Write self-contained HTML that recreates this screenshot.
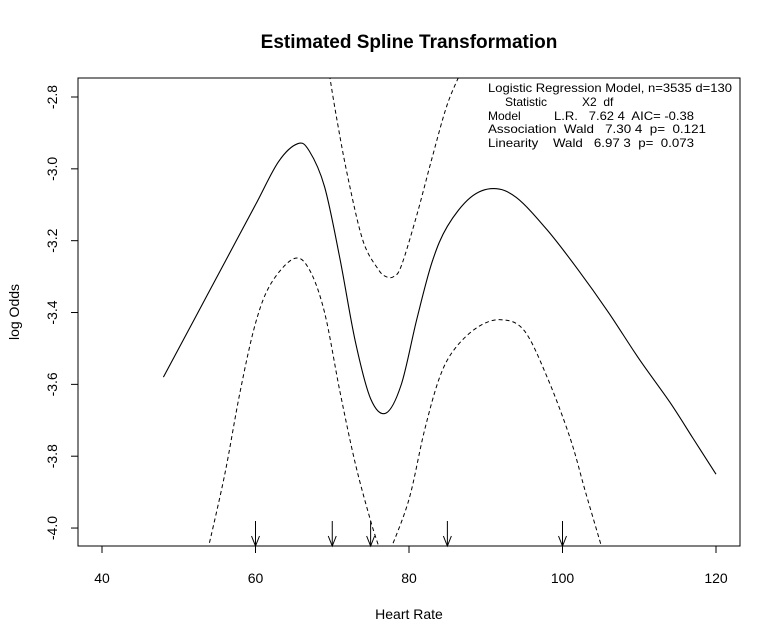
<!DOCTYPE html>
<html><head><meta charset="utf-8"><style>
body{margin:0;background:#fff}
svg{display:block;font-family:"Liberation Sans",Arial,sans-serif}
.lg text{white-space:pre}
</style></head><body>
<svg id="chart" width="781" height="644">
<text x="409" y="48" text-anchor="middle" font-size="19" font-weight="bold">Estimated Spline Transformation</text>
<text x="409" y="619" text-anchor="middle" font-size="14">Heart Rate</text>
<text transform="translate(19,312) rotate(-90)" text-anchor="middle" font-size="14">log Odds</text>
<defs><clipPath id="clip"><rect x="78" y="78" width="662" height="468"/></clipPath></defs>
<rect x="78" y="78" width="662" height="468" fill="none" stroke="#000"/>
<g id="axes"></g>
<g id="series" clip-path="url(#clip)"></g>
<g id="arrows"></g>
<g class="lg" font-size="12">
<text x="488" y="92" textLength="244" lengthAdjust="spacingAndGlyphs">Logistic Regression Model, n=3535 d=130</text>
<text x="505" y="106">Statistic</text><text x="582" y="106">X2  df</text>
<text x="488" y="120">Model</text><text x="554" y="120" textLength="140" lengthAdjust="spacingAndGlyphs">L.R.   7.62 4  AIC= -0.38</text>
<text x="488" y="133" textLength="218" lengthAdjust="spacingAndGlyphs">Association  Wald   7.30 4  p=  0.121</text>
<text x="488" y="147" textLength="206" lengthAdjust="spacingAndGlyphs">Linearity    Wald   6.97 3  p=  0.073</text>
</g>
</svg>
<script>
const xTicks=[40,60,80,100,120];
const yTicks=[-2.8,-3.0,-3.2,-3.4,-3.6,-3.8,-4.0];
const fitX=[48,52,56,60,63,65.5,67,69,71,73,75,77,79,81,83,85,88,91,94,98,102,106,110,114,117,120];
const fitY=[-3.58,-3.42,-3.26,-3.10,-2.98,-2.93,-2.95,-3.05,-3.25,-3.48,-3.64,-3.68,-3.60,-3.42,-3.26,-3.16,-3.08,-3.055,-3.08,-3.17,-3.28,-3.40,-3.53,-3.65,-3.75,-3.85];
const upX=[69.5,70.5,72,74,76,77,78,79,81,83,85,87];
const upY=[-2.72,-2.85,-3.02,-3.2,-3.28,-3.30,-3.30,-3.27,-3.13,-2.97,-2.82,-2.72];
const lo1X=[53.8,56,58,60,62,65,67,69,71,73,75,76.2];
const lo1Y=[-4.06,-3.85,-3.62,-3.43,-3.32,-3.25,-3.28,-3.40,-3.62,-3.82,-3.98,-4.06];
const lo2X=[77.6,80,82,84,86,89,92,95,98,101,103,105.2];
const lo2Y=[-4.06,-3.92,-3.73,-3.58,-3.50,-3.44,-3.42,-3.45,-3.58,-3.75,-3.90,-4.06];
const knots=[60,70,75,85,100];
const sx=v=>102+(v-40)*7.675;
const sy=v=>97+(-2.8-v)*359.2;
const NS="http://www.w3.org/2000/svg";
function mk(t,a,p){const e=document.createElementNS(NS,t);for(const k in a)e.setAttribute(k,a[k]);p.appendChild(e);return e;}
const ax=document.getElementById('axes');
mk('line',{x1:sx(40),x2:sx(120),y1:546,y2:546,stroke:'#000'},ax);
xTicks.forEach(v=>{
 const l=mk('line',{x1:sx(v),x2:sx(v),y1:546,y2:553,stroke:'#000'},ax);
 
 
 const t=mk('text',{x:sx(v),y:583,'text-anchor':'middle','font-size':14},ax);t.textContent=v;
 
 
});
yTicks.forEach(v=>{
 const l=mk('line',{x1:71,x2:78,y1:sy(v),y2:sy(v),stroke:'#000'},ax);
 
 
 const t=mk('text',{transform:`translate(57,${sy(v)}) rotate(-90)`,'text-anchor':'middle','font-size':14},ax);t.textContent=v.toFixed(1);
 
 
});
function path(xs,ys){
 const p=xs.map((x,i)=>[sx(x),sy(ys[i])]);
 let d=`M${p[0][0]},${p[0][1]}`;
 for(let i=0;i<p.length-1;i++){
  const p0=p[i-1]||p[i],p1=p[i],p2=p[i+1],p3=p[i+2]||p2;
  d+=` C${p1[0]+(p2[0]-p0[0])/6},${p1[1]+(p2[1]-p0[1])/6} ${p2[0]-(p3[0]-p1[0])/6},${p2[1]-(p3[1]-p1[1])/6} ${p2[0]},${p2[1]}`;
 }
 return d;
}
const sg=document.getElementById('series');
const f=mk('path',{d:path(fitX,fitY),fill:'none',stroke:'#000','stroke-width':1.1},sg);


[[upX,upY,'upper-ci'],[lo1X,lo1Y,'lower-ci-left'],[lo2X,lo2Y,'lower-ci-right']].forEach(s=>{
 const e=mk('path',{d:path(s[0],s[1]),fill:'none',stroke:'#000','stroke-dasharray':'4 3'},sg);
 
 
});
const ag=document.getElementById('arrows');
knots.forEach(k=>{
 const x=sx(k);
 const g=mk('g',{stroke:'#000',fill:'none'},ag);
 
 
 mk('line',{x1:x,x2:x,y1:521,y2:546},g);
 mk('polyline',{points:`${x-4},536 ${x},546 ${x+4},536`},g);
});
</script>
</body></html>
